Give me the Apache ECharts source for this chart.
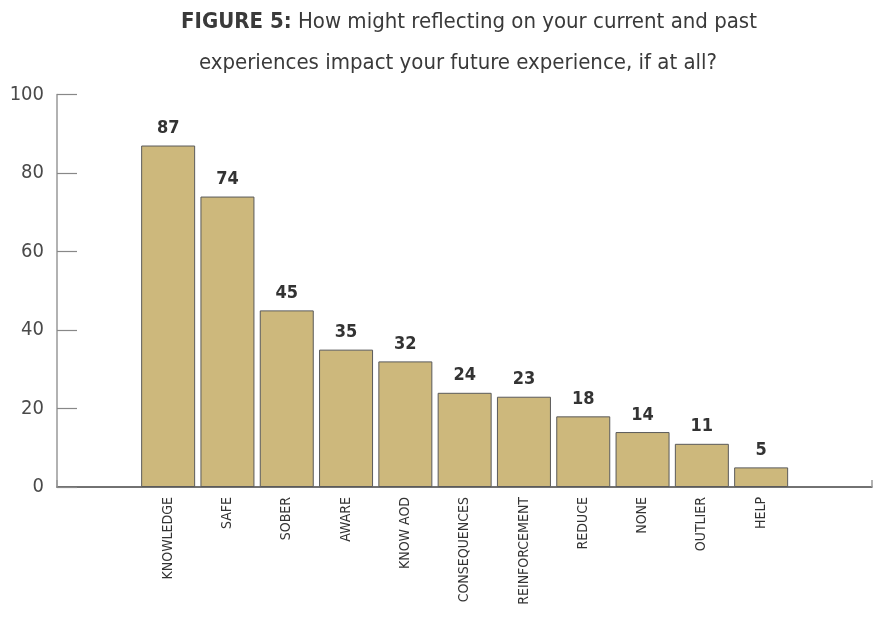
<!DOCTYPE html>
<html>
<head>
<meta charset="utf-8">
<script src="https://cdn.jsdelivr.net/npm/echarts@6/dist/echarts.min.js"></script>
<style>
  html, body { margin: 0; padding: 0; background: #fff; }
  #chart { width: 879px; height: 620px; }
</style>
</head>
<body>
<div id="chart"></div>
<script>
const categories = ['KNOWLEDGE', 'SAFE', 'SOBER', 'AWARE', 'KNOW AOD', 'CONSEQUENCES',
  'REINFORCEMENT', 'REDUCE', 'NONE', 'OUTLIER', 'HELP'];
const counts = [87, 74, 45, 35, 32, 24, 23, 18, 14, 11, 5];
const yTicks = [0, 20, 40, 60, 80, 100];

const FONT = '"Liberation Sans Narrow", "DejaVu Sans Condensed", "Roboto", sans-serif';

const titleStyle = {
  fontFamily: FONT,
  fontSize: 22,
  fontWeight: 'normal',
  color: '#3a3a3a',
  lineHeight: 41,
  rich: {
    b: { fontFamily: FONT, fontSize: 22, fontWeight: 'bold', color: '#3a3a3a', lineHeight: 41 }
  }
};

const chart = echarts.init(document.getElementById('chart'), null, { renderer: 'canvas' });

chart.setOption({
  backgroundColor: '#ffffff',
  animation: false,
  title: [
    {
      text: '{b|FIGURE 5:} How might reflecting on your current and past',
      left: 469,
      top: 1.5,
      padding: 0,
      textAlign: 'center',
      textStyle: titleStyle
    },
    {
      text: 'experiences impact your future experience, if at all?',
      left: 458,
      top: 42.5,
      padding: 0,
      textAlign: 'center',
      textStyle: titleStyle
    }
  ],
  grid: [
    // frame grid: y axis and full-width baseline
    { left: 57, right: 7, top: 94.5, bottom: 133 },
    // bar grid
    { left: 138.5, width: 652.3, top: 94.5, bottom: 133 }
  ],
  xAxis: [
    {
      gridIndex: 0,
      type: 'value',
      min: 0,
      max: 1,
      interval: 1,
      axisLine: { show: true, lineStyle: { color: '#444', width: 1.5 } },
      axisTick: { show: true, inside: true, length: 7, lineStyle: { color: '#999', width: 1.5 } },
      axisLabel: { show: false },
      splitLine: { show: false }
    },
    {
      gridIndex: 1,
      type: 'category',
      data: categories,
      axisLine: { show: false },
      axisTick: { show: false },
      axisLabel: {
        rotate: 90,
        margin: 10,
        interval: 0,
        fontFamily: FONT,
        fontSize: 14,
        color: '#333'
      }
    }
  ],
  yAxis: [
    {
      gridIndex: 0,
      type: 'value',
      min: yTicks[0],
      max: yTicks[yTicks.length - 1],
      interval: yTicks[1] - yTicks[0],
      axisLine: { show: true, lineStyle: { color: '#999', width: 1.5 } },
      axisTick: { show: true, inside: true, length: 20, lineStyle: { color: '#888', width: 1.2 } },
      axisLabel: {
        margin: 13,
        fontFamily: FONT,
        fontSize: 20,
        color: '#4a4a4a'
      },
      splitLine: { show: false }
    },
    {
      gridIndex: 1,
      type: 'value',
      min: yTicks[0],
      max: yTicks[yTicks.length - 1],
      show: false
    }
  ],
  series: [
    {
      type: 'bar',
      xAxisIndex: 1,
      yAxisIndex: 1,
      data: counts,
      barWidth: 54,
      itemStyle: {
        color: '#cdb87c',
        borderColor: '#5a5a5a',
        borderWidth: 1
      },
      label: {
        show: true,
        position: 'top',
        distance: 8,
        fontFamily: FONT,
        fontSize: 18,
        fontWeight: 'bold',
        color: '#333'
      }
    }
  ]
});
</script>
</body>
</html>
